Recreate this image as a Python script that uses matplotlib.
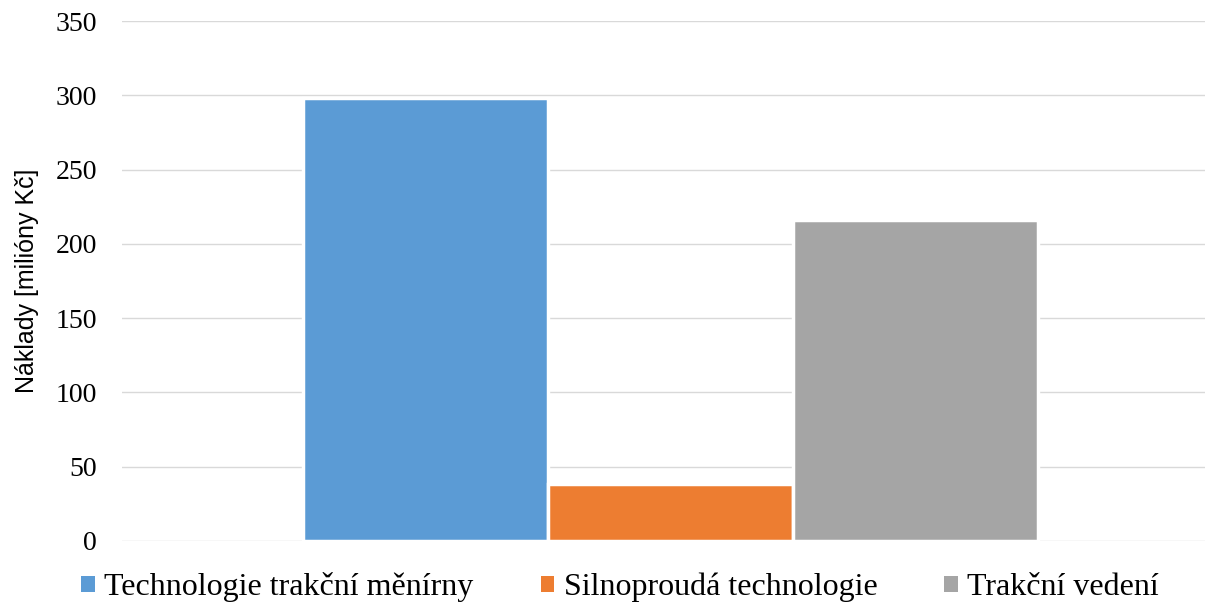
import matplotlib
matplotlib.use("Agg")
import matplotlib.pyplot as plt
from matplotlib.patches import Patch

series = ["Technologie trakční měnírny", "Silnoproudá technologie", "Trakční vedení"]
values = [298, 38, 216]
colors = ["#5b9bd5", "#ed7d31", "#a5a5a5"]
yticks = [0, 50, 100, 150, 200, 250, 300, 350]

fig = plt.figure(figsize=(12.09, 6.03), dpi=100)
ax = fig.add_axes([0.101, 0.103, 0.896, 0.862])

width = 1.0
offsets = [-1, 0, 1]
for off, val, col in zip(offsets, values, colors):
    ax.bar(off * width, val, width=width, color=col, edgecolor="white",
           linewidth=2.5, zorder=3)

ax.set_xlim(-2.237, 2.184)
ax.set_ylim(0, 350)
ax.set_yticks(yticks)
ax.set_xticks([])
ax.yaxis.grid(True, color="#d9d9d9", linewidth=1.0, zorder=0)
ax.set_axisbelow(True)
for s in ax.spines.values():
    s.set_visible(False)
ax.tick_params(axis="y", length=0, pad=18)
for lab in ax.get_yticklabels():
    lab.set_fontfamily("Liberation Serif")
    lab.set_fontsize(20)

ax.set_ylabel("Náklady [milióny Kč]", fontfamily="Liberation Sans", fontsize=18, labelpad=12)

# legend row along the bottom edge
handles = [Patch(facecolor=c, edgecolor="none") for c in colors]
leg = fig.legend(handles, series, loc="center", bbox_to_anchor=(0.513, 0.026), ncol=3,
                 frameon=False, handlelength=0.42, handleheight=0.42, handletextpad=0.3,
                 columnspacing=2.1, borderpad=0, prop={"family": "Liberation Serif", "size": 23})

fig.savefig("out.png", dpi=100)
